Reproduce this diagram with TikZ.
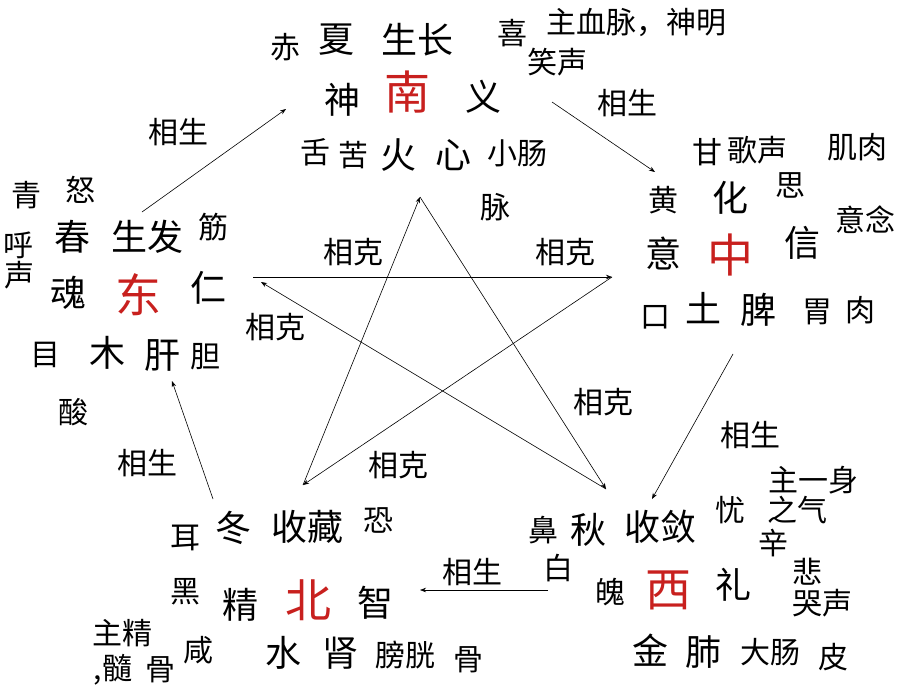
\documentclass[tikz,border=0pt]{standalone}
\usepackage{fontspec}
\setmainfont{Noto Sans CJK SC}
\usetikzlibrary{arrows.meta}
\definecolor{dirred}{RGB}{200,32,30}
\begin{document}
\begin{tikzpicture}[x=1pt,y=-1pt,
  sm/.style={inner sep=0pt,font=\fontsize{30}{30}\selectfont},
  lg/.style={inner sep=0pt,font=\fontsize{36}{36}\selectfont},
  dir/.style={inner sep=0pt,text=dirred,font=\fontsize{46}{46}\selectfont},
  arr/.style={line width=0.6pt,-{Stealth[length=6pt,width=4.5pt]}}]
\useasboundingbox (0,0) rectangle (910,696);
\fill[white] (0,0) rectangle (910,696);
% south
\node[sm] (chi) at (285,47) {赤};
\node[lg] (xia) at (336,40) {夏};
\node[lg] (shengzhang) at (417,40) {生长};
\node[sm] (xi) at (512,33) {喜};
\node[sm] (xuemai) at (636,22) {主血脉，神明};
\node[sm] (xiaosheng) at (557,62) {笑声};
\node[lg] (shen) at (342,100) {神};
\node[dir] (nan) at (407,92) {南};
\node[lg] (yi) at (483,97) {义};
\node[sm] (she) at (315,152) {舌};
\node[sm] (ku) at (353,155) {苦};
\node[lg] (huo) at (398,155) {火};
\node[lg] (xin) at (453,155) {心};
\node[sm] (xiaochang) at (517,153) {小肠};
\node[sm] (mai) at (495,207) {脉};
% east
\node[sm] (qing) at (27,195) {青};
\node[sm] (nu) at (80,190) {怒};
\node[lg] (chun) at (72,237) {春};
\node[lg] (shengfa) at (147,237) {生发};
\node[sm] (jin) at (213,227) {筋};
\node[sm] (hu) at (18,245) {呼};
\node[sm] (sheng) at (20,275) {声};
\node[lg] (hun) at (68,293) {魂};
\node[dir] (dong) at (138,295) {东};
\node[lg] (ren) at (208,288) {仁};
\node[sm] (mu) at (45,355) {目};
\node[lg] (wood) at (107,353) {木};
\node[lg] (gan) at (162,355) {肝};
\node[sm] (dan) at (205,357) {胆};
\node[sm] (suan) at (73,412) {酸};
% centre
\node[sm] (tian) at (707,152) {甘};
\node[sm] (gesheng) at (757,150) {歌声};
\node[sm] (jirou) at (857,147) {肌肉};
\node[sm] (si) at (790,185) {思};
\node[sm] (huang) at (663,200) {黄};
\node[lg] (hua) at (730,198) {化};
\node[sm] (yinian) at (865,220) {意念};
\node[lg] (yiz) at (663,253) {意};
\node[dir] (zhong) at (730,255) {中};
\node[lg] (xinz) at (802,243) {信};
\node[sm] (kou) at (655,317) {口};
\node[lg] (tu) at (703,308) {土};
\node[lg] (pi) at (758,310) {脾};
\node[sm] (wei) at (817,312) {胃};
\node[sm] (rou) at (860,310) {肉};
% north
\node[sm] (er) at (185,538) {耳};
\node[lg] (dongj) at (233,528) {冬};
\node[lg] (shoucang) at (307,527) {收藏};
\node[sm] (kong) at (378,520) {恐};
\node[sm] (hei) at (185,592) {黑};
\node[lg] (jing) at (240,605) {精};
\node[dir] (bei) at (308,600) {北};
\node[lg] (zhi) at (375,603) {智};
\node[sm] (zhujing) at (122,633) {主精};
\node[sm] (sui) at (113,670) {,髓};
\node[sm] (gu) at (160,670) {骨};
\node[sm] (xian) at (198,650) {咸};
\node[lg] (shui) at (283,653) {水};
\node[lg] (shenz) at (340,653) {肾};
\node[sm] (pangguang) at (405,655) {膀胱};
\node[sm] (gub) at (468,660) {骨};
% west
\node[sm] (zhuyishen) at (813,480) {主一身};
\node[sm] (you) at (730,510) {忧};
\node[sm] (zhiqi) at (797,510) {之气};
\node[sm] (bi) at (543,530) {鼻};
\node[lg] (qiu) at (588,530) {秋};
\node[lg] (shoulian) at (660,527) {收敛};
\node[sm] (xinw) at (773,543) {辛};
\node[sm] (bai) at (558,568) {白};
\node[sm] (bei2) at (807,572) {悲};
\node[sm] (po) at (610,592) {魄};
\node[dir] (xiw) at (668,590) {西};
\node[lg] (li) at (733,585) {礼};
\node[sm] (kusheng) at (822,603) {哭声};
\node[lg] (metal) at (650,650) {金};
\node[lg] (fei) at (703,652) {肺};
\node[sm] (dachang) at (770,652) {大肠};
\node[sm] (pib) at (833,657) {皮};
% labels
\node[sm] (sheng1) at (178,132) {相生};
\node[sm] (sheng2) at (627,103) {相生};
\node[sm] (sheng3) at (750,435) {相生};
\node[sm] (sheng4) at (472,572) {相生};
\node[sm] (sheng5) at (147,463) {相生};
\node[sm] (ke1) at (353,252) {相克};
\node[sm] (ke2) at (565,252) {相克};
\node[sm] (ke3) at (275,327) {相克};
\node[sm] (ke4) at (603,402) {相克};
\node[sm] (ke5) at (398,465) {相克};
% star
\coordinate (kT) at (420,197);
\coordinate (kL) at (253,277);
\coordinate (kLd) at (261,282);
\coordinate (kR) at (612,277);
\coordinate (kBL) at (303,485);
\coordinate (kBR) at (606,489);
\draw[arr] (kL) -- (kR);
\draw[arr] (kR) -- (kBL);
\draw[arr] (kBL) -- (kT);
\draw[arr] (kT) -- (kBR);
\draw[arr] (kBR) -- (kLd);
% ring
\coordinate (s1a) at (142,212);
\coordinate (s1b) at (286,109);
\coordinate (s2a) at (552,102);
\coordinate (s2b) at (655,172);
\coordinate (s3a) at (733,354);
\coordinate (s3b) at (652,499);
\coordinate (s4a) at (548,590);
\coordinate (s4b) at (420,590);
\coordinate (s5a) at (213,499);
\coordinate (s5b) at (172,381);
\draw[arr] (s1a) -- (s1b);
\draw[arr] (s2a) -- (s2b);
\draw[arr] (s3a) -- (s3b);
\draw[arr] (s4a) -- (s4b);
\draw[arr] (s5a) -- (s5b);
\end{tikzpicture}
\end{document}
